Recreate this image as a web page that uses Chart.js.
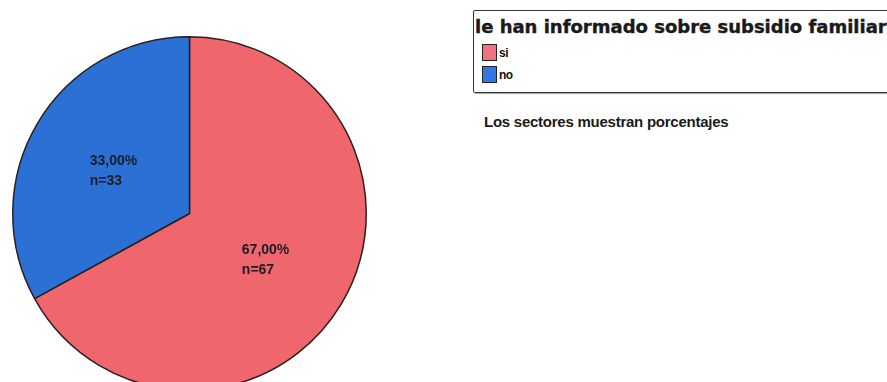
<!DOCTYPE html>
<html lang="es">
<head>
    <meta charset="UTF-8">
    <title>le han informado sobre subsidio familiar</title>
    <script src="https://cdn.jsdelivr.net/npm/chart.js"></script>
    <style>
        html, body {
            margin: 0;
            padding: 0;
            background: #ffffff;
            overflow: hidden;
            width: 887px;
            height: 382px;
        }

        .pie-wrap {
            position: absolute;
            left: 12px;
            top: 36px;
            width: 355px;
            height: 355px;
        }

        .legend-box {
            position: absolute;
            left: 473px;
            top: 10px;
            width: 430px;
            height: 81px;
            border: 1.5px solid #333;
            border-radius: 2px;
            box-shadow: 1px 1px 1px rgba(0,0,0,0.35);
            font-family: 'Liberation Sans', Arial, sans-serif;
        }

        .legend-title {
            position: absolute;
            left: 1px;
            top: 5px;
            font-family: 'DejaVu Sans', sans-serif;
            font-weight: bold;
            font-size: 18px;
            color: #1a1a1a;
            white-space: nowrap;
            -webkit-text-stroke: 0.4px #1a1a1a;
        }

        .legend-item {
            position: absolute;
            left: 8px;
            font-size: 12px;
            font-weight: bold;
            color: #111;
            letter-spacing: -0.5px;
        }

        .legend-item .swatch {
            display: inline-block;
            width: 13px;
            height: 15px;
            border: 1.5px solid #222;
            vertical-align: -4px;
            margin-right: 2px;
        }

        .note {
            position: absolute;
            left: 484px;
            top: 113px;
            font-family: 'Liberation Sans', Arial, sans-serif;
            font-size: 15px;
            font-weight: bold;
            color: #1a1a1a;
            letter-spacing: -0.25px;
        }
    </style>
</head>
<body>
    <div class="pie-wrap"><canvas id="pieChart"></canvas></div>

    <div class="legend-box">
        <div class="legend-title" id="legendTitle"></div>
        <div id="legendItems"></div>
    </div>
    <div class="note">Los sectores muestran porcentajes</div>

    <script>
        const chartTitle = 'le han informado sobre subsidio familiar';
        const categories = ['si', 'no'];
        const counts = [67, 33];
        const percents = [67.0, 33.0];
        const sliceColors = ['#ef666d', '#2b70d4'];
        const swatchColors = ['#f07280', '#3577e0'];

        // legend in the box at the right
        document.getElementById('legendTitle').textContent = chartTitle;
        const legendItems = document.getElementById('legendItems');
        categories.forEach((cat, i) => {
            const item = document.createElement('div');
            item.className = 'legend-item';
            item.style.top = (33 + i * 22) + 'px';
            item.innerHTML = '<span class="swatch" style="background:' + swatchColors[i] + '"></span>' + cat;
            legendItems.appendChild(item);
        });

        // percentage and count written inside each slice
        const sliceLabels = {
            id: 'sliceLabels',
            afterDatasetsDraw(chart) {
                const ctx = chart.ctx;
                const meta = chart.getDatasetMeta(0);
                ctx.save();
                ctx.font = 'bold 14px "Liberation Sans", Arial, sans-serif';
                ctx.fillStyle = '#1c1c2a';
                ctx.textBaseline = 'alphabetic';
                ctx.textAlign = 'left';
                meta.data.forEach((arc, i) => {
                    const mid = (arc.startAngle + arc.endAngle) / 2;
                    const r = arc.outerRadius * 0.5;
                    const x = arc.x + Math.cos(mid) * r;
                    const y = arc.y + Math.sin(mid) * r;
                    const line1 = percents[i].toFixed(2).replace('.', ',') + '%';
                    const line2 = 'n=' + counts[i];
                    const w = Math.max(ctx.measureText(line1).width, ctx.measureText(line2).width);
                    ctx.fillText(line1, x - w / 2, y - 4);
                    ctx.fillText(line2, x - w / 2, y + 16);
                });
                ctx.restore();
            }
        };

        new Chart(document.getElementById('pieChart').getContext('2d'), {
            type: 'pie',
            data: {
                labels: categories,
                datasets: [{
                    data: percents,
                    backgroundColor: sliceColors,
                    borderColor: '#2a2020',
                    borderWidth: 1.5
                }]
            },
            options: {
                responsive: true,
                maintainAspectRatio: false,
                animation: false,
                layout: { padding: 0 },
                plugins: {
                    legend: { display: false },
                    tooltip: { enabled: false }
                }
            },
            plugins: [sliceLabels]
        });
    </script>
</body>
</html>
